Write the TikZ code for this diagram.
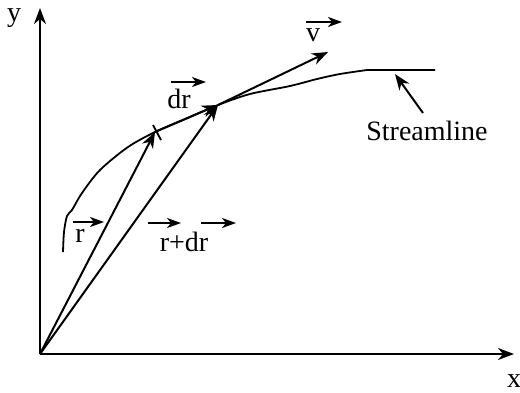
\documentclass[tikz,border=0pt]{standalone}
\usepackage{fontspec}
\setmainfont{Liberation Serif}
\usetikzlibrary{arrows.meta}
\begin{document}
\begin{tikzpicture}[x=0.5pt,y=-0.5pt,
  vec/.style={line width=1pt,-{Stealth[length=8pt,width=6pt,inset=2.5pt]}},
  lbl/.style={inner sep=0pt,font=\fontsize{14}{16}\selectfont},
  ovarrow/.style={line width=1pt,-{Stealth[length=7pt,width=5pt,inset=2pt]}}]
\useasboundingbox (0,0) rectangle (520,392);
\coordinate (O) at (40,354);
\coordinate (ytip) at (40,8);
\coordinate (xtip) at (514,354);
\coordinate (P1) at (155,132);
\coordinate (P2) at (218,105);
\coordinate (V) at (328,52);
% axes
\draw[vec] (O) -- (ytip);
\draw[vec] (O) -- (xtip);
\node[lbl] (ylab) at (14,18) {y};
\node[lbl] (xlab) at (514,381) {x};
% streamline
\draw[line width=0.9pt] plot[smooth,tension=0.5] coordinates {(63,252) (64,232) (67,216) (72,210) (82,193) (100,170) (128,147) (155,132) (185,119) (218,105) (250,94) (290,86) (317,79) (340,74) (367,70)} -- (435,70);
% tick
\draw[line width=0.9pt] (153,125) -- (161,140);
% vectors
\draw[vec] (O) -- (P1);
\draw[vec] (O) -- (P2);
\draw[vec] (P1) -- (P2);
\draw[vec] (P2) -- (V);
% labels
\node[lbl] (rlab) at (80,236) {r};
\draw[ovarrow] (73,222) -- (104,222);
\node[lbl] (rdrlab) at (184,242) {r+dr};
\draw[ovarrow] (148,223) -- (181,223);
\draw[ovarrow] (201,223) -- (236,223);
\node[lbl] (drlab) at (179,99) {dr};
\draw[ovarrow] (171,82) -- (206,82);
\node[lbl] (vlab) at (313,35) {v};
\draw[ovarrow] (306,22) -- (342,22);
\node[lbl] (slab) at (427,131) {Streamline};
\coordinate (sarrow) at (395,74);
\draw[vec] (423,113) -- (sarrow);
\end{tikzpicture}
\end{document}
